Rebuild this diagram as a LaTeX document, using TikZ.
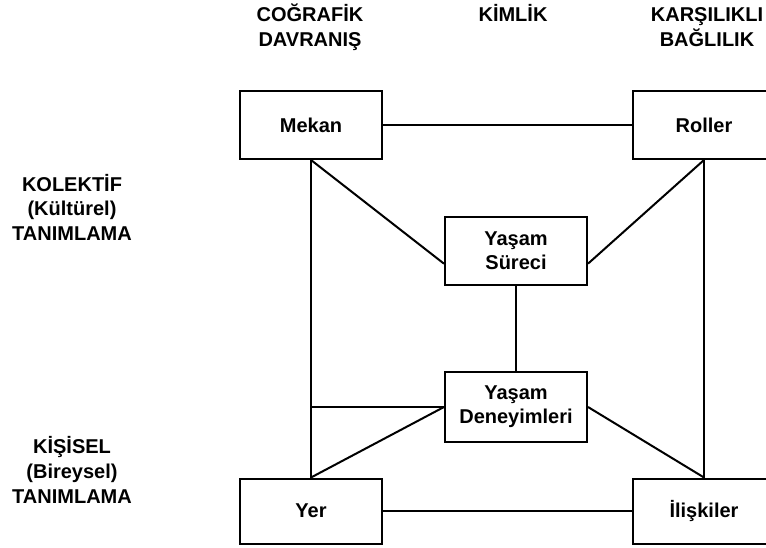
\documentclass[tikz,border=0pt]{standalone}
\usepackage{fontspec}
\setmainfont{Liberation Sans}
\usepackage{tikz}

\begin{document}
\begin{tikzpicture}[
    x=1pt, y=-1pt, line width=2pt,
    kutu/.style={draw, minimum width=142pt, minimum height=68pt, align=center,
                 font=\bfseries\fontsize{20}{24}\selectfont},
    baslik/.style={align=center, anchor=base, font=\bfseries\fontsize{20}{25}\selectfont},
]
\useasboundingbox (0,0) rectangle (766,548);
\clip (0,0) rectangle (766,548);
\node[baslik] (cografik) at (310,47) {COĞRAFİK\\DAVRANIŞ};
\node[baslik] (kimlik) at (513,22) {KİMLİK};
\node[baslik] (karsilikli) at (707,47) {KARŞILIKLI\\BAĞLILIK};
\node[baslik] (kolektif) at (72,241) {KOLEKTİF\\(Kültürel)\\TANIMLAMA};
\node[baslik] (kisisel) at (72,503) {KİŞİSEL\\(Bireysel)\\TANIMLAMA};
\node[kutu] (mekan) at (311,125) {Mekan};
\node[kutu] (roller) at (704,125) {Roller};
\node[kutu] (sureci) at (516,251) {Yaşam\\Süreci};
\node[kutu, minimum height=70pt] (deney) at (516,407) {Yaşam\\Deneyimleri};
\node[kutu, minimum height=65pt] (yer) at (311,511) {Yer};
\node[kutu, minimum height=65pt] (iliskiler) at (704,511) {İlişkiler};
\draw (mekan) -- (roller);
\draw (mekan.south) -- (yer.north);
\draw (mekan.south) -- (sureci.190);
\draw (roller.south) -- (iliskiler.north);
\draw (roller.south) -- (sureci.-10);
\draw (sureci) -- (deney);
\draw (deney.west -| mekan.south) -- (deney.west);
\draw (deney.west) -- (yer.north);
\draw (deney.east) -- (iliskiler.north);
\draw (yer) -- (iliskiler);
\end{tikzpicture}
\end{document}
